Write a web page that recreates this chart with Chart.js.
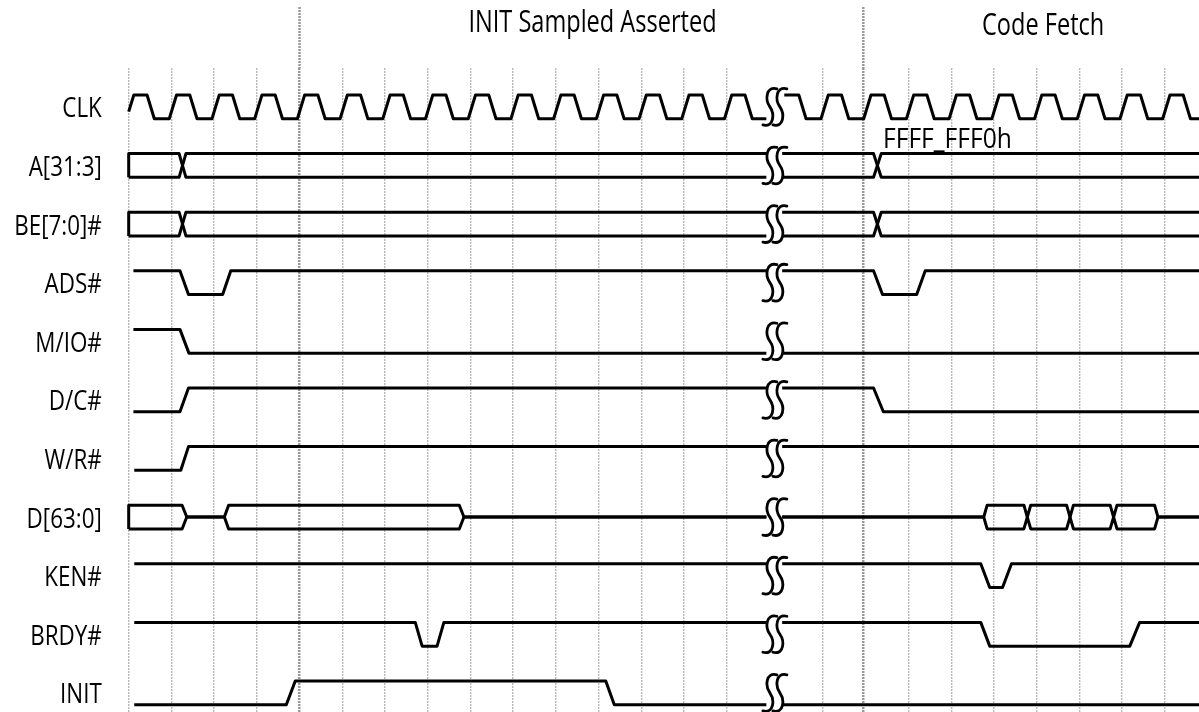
<!DOCTYPE html>
<html><head><meta charset="utf-8">
<script src="https://cdn.jsdelivr.net/npm/chart.js@4"></script>
<style>html,body{margin:0;padding:0;background:#fff}#wrap{width:1199px;height:712px;position:relative}</style>
</head><body><div id="wrap"><canvas id="c"></canvas></div>
<script>
const FONT = '"Open Sans", "Liberation Sans", sans-serif';

// signal names (rows, top to bottom)
const signalNames = ['CLK','A[31:3]','BE[7:0]#','ADS#','M/IO#','D/C#','W/R#','D[63:0]','KEN#','BRDY#','INIT'];

// phase headers
const phaseTitles = ['INIT Sampled Asserted', 'Code Fetch'];
const addressNote = 'FFFF_FFF0h';

// clock edges (time in clock periods) used for the vertical grid
const clockEdges = [0,1,2,3,4,5,6,7,8,9,10,11,12,13,14,16.26,17.26,18.26,19.26,20.26,21.26,22.26,23.26,24.26];
const phaseBoundaries = [4, 17.2];
const BREAK_AT = 15.13;

// waveform vertices: [time, level] (1 = high, 0 = low, 0.5 = float); null = time break
const clk = [[0,0.3],[0.12,1],[0.43,1],[0.6,0],
 [0.95,0],[1.12,1],[1.43,1],[1.6,0],
 [1.95,0],[2.12,1],[2.43,1],[2.6,0],
 [2.95,0],[3.12,1],[3.43,1],[3.6,0],
 [3.95,0],[4.12,1],[4.43,1],[4.6,0],
 [4.95,0],[5.12,1],[5.43,1],[5.6,0],
 [5.95,0],[6.12,1],[6.43,1],[6.6,0],
 [6.95,0],[7.12,1],[7.43,1],[7.6,0],
 [7.95,0],[8.12,1],[8.43,1],[8.6,0],
 [8.95,0],[9.12,1],[9.43,1],[9.6,0],
 [9.95,0],[10.12,1],[10.43,1],[10.6,0],
 [10.95,0],[11.12,1],[11.43,1],[11.6,0],
 [11.95,0],[12.12,1],[12.43,1],[12.6,0],
 [12.95,0],[13.12,1],[13.43,1],[13.6,0],
 [13.95,0],[14.12,1],[14.43,1],[14.6,0],[14.93,0],
 null,
 [15.35,1],[15.69,1],[15.86,0],
 [16.21,0],[16.38,1],[16.69,1],[16.86,0],
 [17.21,0],[17.38,1],[17.69,1],[17.86,0],
 [18.21,0],[18.38,1],[18.69,1],[18.86,0],
 [19.21,0],[19.38,1],[19.69,1],[19.86,0],
 [20.21,0],[20.38,1],[20.69,1],[20.86,0],
 [21.21,0],[21.38,1],[21.69,1],[21.86,0],
 [22.21,0],[22.38,1],[22.69,1],[22.86,0],
 [23.21,0],[23.38,1],[23.69,1],[23.86,0],
 [24.21,0],[24.38,1],[24.69,1],[24.86,0],[25.06,0]];

const aTop  = [[0,0],[0,1],[1.18,1],[1.34,0],[14.93,0],null,[15.3,0],[17.44,0],[17.62,1],[25.06,1]];
const aBot  = [[0,0],[1.18,0],[1.34,1],[14.93,1],null,[15.3,1],[17.44,1],[17.62,0],[25.06,0]];
const beTop = [[0,0],[0,1],[1.18,1],[1.34,0],[14.93,0],null,[15.3,0],[17.44,0],[17.62,1],[25.06,1]];
const beBot = [[0,0],[1.18,0],[1.34,1],[14.93,1],null,[15.3,1],[17.44,1],[17.62,0],[25.06,0]];
const ads   = [[0.11,1],[1.2,1],[1.4,0],[2.2,0],[2.39,1],[14.93,1],null,[15.3,1],[17.44,1],[17.65,0],[18.45,0],[18.65,1],[25.06,1]];
const mio   = [[0.11,1],[1.2,1],[1.41,0],[14.93,0],null,[15.3,0],[25.06,0]];
const dc    = [[0.11,0],[1.2,0],[1.4,1],[14.93,1],null,[15.3,1],[17.44,1],[17.67,0],[25.06,0]];
const wr    = [[0.13,0],[1.22,0],[1.4,1],[14.93,1],null,[15.3,1],[25.06,1]];
const dTop  = [[0,0],[0,1],[1.25,1],[1.36,0.5],[2.24,0.5],[2.34,1],[7.74,1],[7.85,0.5],[14.93,0.5],null,[15.3,0.5],
  [20.02,0.5],[20.1,1],[20.96,1],[21.04,0.5],[21.12,1],[21.96,1],[22.04,0.5],[22.12,1],[22.98,1],[23.06,0.5],[23.14,1],[24.02,1],[24.1,0.5],[25.06,0.5]];
const dBot  = [[0,0],[1.25,0],[1.36,0.5],[2.24,0.5],[2.34,0],[7.74,0],[7.85,0.5],[14.93,0.5],null,[15.3,0.5],
  [20.02,0.5],[20.1,0],[20.96,0],[21.04,0.5],[21.12,0],[21.96,0],[22.04,0.5],[22.12,0],[22.98,0],[23.06,0.5],[23.14,0],[24.02,0],[24.1,0.5],[25.06,0.5]];
const ken   = [[0.13,1],[14.93,1],null,[15.3,1],[19.95,1],[20.16,0],[20.46,0],[20.67,1],[25.06,1]];
const brdy  = [[0.13,1],[6.71,1],[6.87,0],[7.22,0],[7.38,1],[14.93,1],null,[15.3,1],[19.95,1],[20.16,0],[23.44,0],[23.67,1],[25.06,1]];
const init  = [[0.13,0],[3.69,0],[3.9,1],[11.17,1],[11.37,0],[14.93,0],null,[15.3,0],[25.06,0]];

const waveforms = [[0,clk],[1,aTop],[1,aBot],[2,beTop],[2,beBot],[3,ads],[4,mio],[5,dc],[6,wr],[7,dTop],[7,dBot],[8,ken],[9,brdy],[10,init]];

const AMP = 0.405;
const toPoints = (row, arr) => arr.map(p => p === null ? {x: BREAK_AT, y: null} : {x: p[0], y: row + (1 - p[1]) * AMP});

const datasets = waveforms.map(([row, arr]) => ({
  data: toPoints(row, arr),
  borderColor: '#000', borderWidth: 3, pointRadius: 0, tension: 0, fill: false,
  spanGaps: false, borderJoinStyle: 'round', borderCapStyle: 'butt'
}));

const isBoundary = v => phaseBoundaries.some(b => Math.abs(b - v) < 1e-6);

function condensedText(ctx, text, px, py, size, squeeze, align) {
  ctx.save();
  ctx.font = size + 'px ' + FONT;
  ctx.textAlign = align;
  ctx.textBaseline = 'alphabetic';
  ctx.translate(px, py);
  ctx.scale(squeeze, 1);
  ctx.fillText(text, 0, 0);
  ctx.restore();
}

const decor = {
  id: 'decor',
  beforeDatasetsDraw(chart) {
    const {ctx, scales: {x}, chartArea} = chart;
    ctx.save();
    ctx.strokeStyle = '#999'; ctx.lineWidth = 2.5; ctx.setLineDash([2, 1]);
    phaseBoundaries.forEach(b => {
      const px = x.getPixelForValue(b);
      ctx.beginPath(); ctx.moveTo(px, 7); ctx.lineTo(px, chartArea.top); ctx.stroke();
    });
    ctx.restore();
  },
  afterDatasetsDraw(chart) {
    const {ctx, scales: {x, y}} = chart;
    ctx.save();
    ctx.strokeStyle = '#000'; ctx.lineWidth = 2.8; ctx.lineCap = 'round';
    const bx = x.getPixelForValue(BREAK_AT);
    signalNames.forEach((n, i) => {
      const cy = y.getPixelForValue(i + AMP / 2);
      [-5, 5].forEach(d => {
        const cx = bx + d;
        ctx.beginPath();
        ctx.moveTo(cx + 7, cy - 18);
        ctx.bezierCurveTo(cx - 4, cy - 21, cx - 5, cy - 7, cx, cy);
        ctx.bezierCurveTo(cx + 5, cy + 7, cx + 4, cy + 21, cx - 7, cy + 18);
        ctx.stroke();
      });
    });
    ctx.fillStyle = '#000';
    // row labels, right-aligned left of the time axis origin
    const labelRight = x.getPixelForValue(-0.63);
    signalNames.forEach((n, i) => {
      const cy = y.getPixelForValue(i + AMP / 2);
      condensedText(ctx, n, labelRight, cy + 10.5, 28, 0.8, 'right');
    });
    condensedText(ctx, phaseTitles[0], x.getPixelForValue(10.86), 32, 31, 0.76, 'center');
    condensedText(ctx, phaseTitles[1], x.getPixelForValue(21.41), 35, 31, 0.76, 'center');
    condensedText(ctx, addressNote, x.getPixelForValue(17.66), y.getPixelForValue(1) - 6, 28, 0.88, 'left');
    ctx.restore();
  }
};

new Chart(document.getElementById('c'), {
  type: 'line',
  data: { datasets },
  plugins: [decor],
  options: {
    responsive: true, maintainAspectRatio: false, animation: false, events: [],
    layout: { padding: { top: 68, left: 0, right: 0, bottom: 0 } },
    plugins: { legend: { display: false }, tooltip: { enabled: false }, title: { display: false } },
    scales: {
      x: {
        type: 'linear', min: -3.0133, max: 25.06,
        afterBuildTicks: s => {
          const edges = clockEdges.filter(v => !phaseBoundaries.some(b => Math.abs(b - v) < 0.2));
          s.ticks = edges.concat(phaseBoundaries).sort((a, b) => a - b).map(v => ({ value: v }));
        },
        afterFit: s => { s.height = 0; s.paddingLeft = 0; s.paddingRight = 0; },
        ticks: { display: false },
        border: { display: false, dash: [2, 1] },
        grid: {
          drawTicks: false,
          color: c => (c.tick && isBoundary(c.tick.value)) ? '#999999' : '#b8b8b8',
          lineWidth: c => (c.tick && isBoundary(c.tick.value)) ? 2.5 : 1.4
        }
      },
      y: {
        type: 'linear', reverse: true, min: -0.4608, max: 10.529, display: false
      }
    }
  }
});
</script>
</body></html>
